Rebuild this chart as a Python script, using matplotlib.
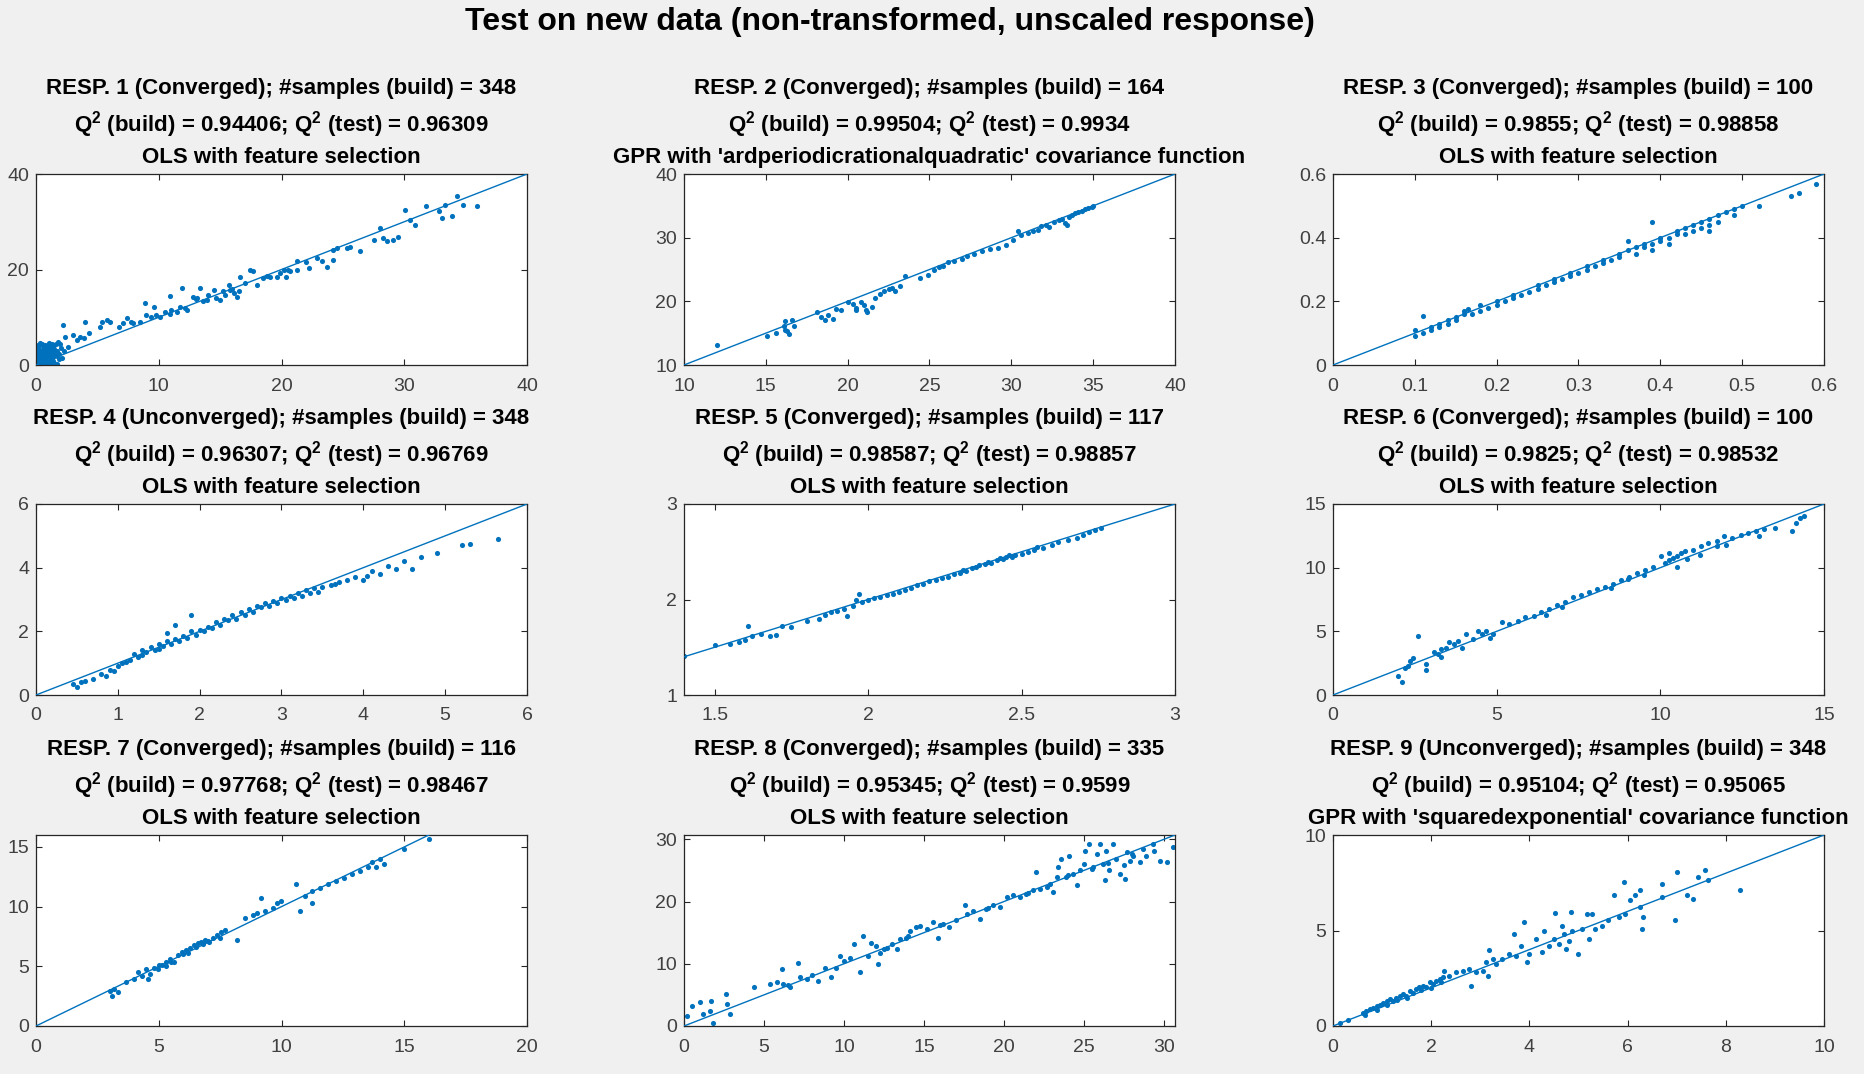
import numpy as np
import matplotlib.pyplot as plt
from matplotlib.ticker import FormatStrFormatter

plt.rcParams['font.family'] = ['Liberation Sans', 'DejaVu Sans']
plt.rcParams['mathtext.fontset'] = 'custom'
plt.rcParams['mathtext.rm'] = 'Liberation Sans:bold'
plt.rcParams['mathtext.default'] = 'rm'

FIG_BG = '#f0f0f0'
BLUE = '#0072bd'
DARK = '#262626'

main_title = 'Test on new data (non-transformed, unscaled response)'

status = ['Converged', 'Converged', 'Converged', 'Unconverged', 'Converged',
          'Converged', 'Converged', 'Converged', 'Unconverged']
n_build = [348, 164, 100, 348, 117, 100, 116, 335, 348]
q2_build = ['0.94406', '0.99504', '0.9855', '0.96307', '0.98587',
            '0.9825', '0.97768', '0.95345', '0.95104']
q2_test = ['0.96309', '0.9934', '0.98858', '0.96769', '0.98857',
           '0.98532', '0.98467', '0.9599', '0.95065']
methods = ['OLS with feature selection',
           "GPR with 'ardperiodicrationalquadratic' covariance function",
           'OLS with feature selection',
           'OLS with feature selection',
           'OLS with feature selection',
           'OLS with feature selection',
           'OLS with feature selection',
           'OLS with feature selection',
           "GPR with 'squaredexponential' covariance function"]

x_limits = [(0, 40), (10, 40), (0, 0.6), (0, 6), (1.4, 3), (0, 15), (0, 20), (0, 30.7), (0, 10)]
y_limits = [(0, 40), (10, 40), (0, 0.6), (0, 6), (1, 3), (0, 15), (0, 16), (0, 30.7), (0, 10)]
x_ticks = [[0, 10, 20, 30, 40], [10, 15, 20, 25, 30, 35, 40],
           [0, 0.1, 0.2, 0.3, 0.4, 0.5, 0.6], [0, 1, 2, 3, 4, 5, 6],
           [1.5, 2, 2.5, 3], [0, 5, 10, 15], [0, 5, 10, 15, 20],
           [0, 5, 10, 15, 20, 25, 30], [0, 2, 4, 6, 8, 10]]
y_ticks = [[0, 20, 40], [10, 20, 30, 40], [0, 0.2, 0.4, 0.6], [0, 2, 4, 6],
           [1, 2, 3], [0, 5, 10, 15], [0, 5, 10, 15], [0, 10, 20, 30], [0, 5, 10]]

# (true, predicted) pairs for each response
resp1 = [(0.1, 0.3), (0.2, 1.0), (0.3, 2.1), (0.4, 0.6), (0.5, 3.2), (0.6, 1.5), (0.7, 2.8),
         (0.8, 0.9), (0.9, 4.0), (1.0, 2.2), (1.1, 3.5), (1.2, 1.2), (1.3, 4.5), (1.4, 2.6),
         (1.5, 0.5), (1.6, 3.0), (1.7, 1.8), (1.8, 4.8), (1.9, 2.4), (2.0, 3.6), (0.2, 3.8),
         (0.3, 4.6), (0.5, 0.2), (0.7, 4.2), (0.9, 1.9), (1.1, 0.8), (1.3, 2.0), (1.5, 4.1),
         (0.1, 2.5), (0.4, 1.3), (0.6, 2.9), (0.8, 3.4), (1.0, 0.4), (1.2, 3.0), (1.4, 1.6),
         (2.3, 2.9), (2.6, 3.8), (2.1, 1.4), (0.3, 0.1), (0.6, 0.5), (0.9, 0.2), (1.7, 0.3),
         (0.05, 1.6), (0.45, 2.5), (0.15, 4.2), (0.25, 3.1), (0.35, 1.6), (0.55, 3.9),
         (0.65, 2.2), (0.75, 1.2), (0.85, 2.5), (0.95, 3.0), (1.05, 1.6), (1.15, 2.7),
         (1.25, 3.8), (1.35, 0.9), (1.45, 3.3), (1.55, 2.2), (1.65, 4.4), (1.75, 2.9),
         (1.85, 1.3), (1.95, 4.3), (0.05, 0.8), (0.15, 1.9), (0.25, 0.5), (0.45, 4.3),
         (0.55, 1.1), (0.75, 3.6), (1.05, 4.6), (1.2, 0.2),
         (2.2, 8.3), (2.4, 5.9), (3.0, 6.3), (3.3, 5.2), (3.6, 5.9), (3.9, 5.6), (4.0, 9.1),
         (4.3, 6.6), (5.2, 8.0), (5.4, 9.1), (5.8, 9.4), (6.0, 9.1), (6.8, 8.0), (7.1, 8.7),
         (7.4, 9.8), (7.7, 9.1), (7.9, 8.7), (8.5, 9.1), (8.9, 12.9), (9.0, 10.5), (9.4, 10.1),
         (9.6, 12.2), (9.8, 10.5), (10.1, 10.1), (10.5, 11.0), (10.9, 14.5), (10.9, 10.7),
         (11.0, 11.5), (11.5, 11.2), (11.7, 12.2), (12.1, 11.9), (12.3, 11.5), (11.9, 16.1),
         (12.8, 14.3), (13.0, 13.8), (13.1, 14.0), (13.4, 16.1), (13.6, 13.3), (13.9, 13.6),
         (14.0, 14.6), (14.5, 15.7), (14.7, 14.0), (15.0, 13.6), (15.2, 15.6), (15.4, 14.7),
         (15.7, 16.8), (15.8, 15.7), (16.0, 16.0), (16.1, 15.0), (16.4, 14.3), (16.5, 15.4),
         (16.6, 18.5), (17.0, 17.2), (17.4, 19.9), (17.7, 19.6), (18.0, 16.8), (18.5, 18.2),
         (18.8, 18.6), (19.1, 18.5), (19.6, 18.5), (19.9, 19.2), (20.2, 19.9), (20.4, 18.5),
         (20.5, 20.0), (20.7, 19.6), (21.3, 19.9), (21.3, 21.7), (22.0, 21.5), (22.2, 20.3),
         (22.9, 22.4), (23.3, 21.7), (23.7, 20.6), (24.2, 22.0), (24.2, 24.1), (24.5, 24.4),
         (25.3, 24.5), (25.6, 24.8), (26.4, 23.8), (27.5, 26.2), (28.0, 28.7), (28.3, 26.6),
         (28.6, 25.9), (29.1, 26.2), (29.5, 26.9), (30.1, 32.5), (30.5, 30.4), (30.9, 29.4),
         (31.8, 33.2), (32.8, 32.2), (33.1, 30.8), (33.3, 33.6), (33.9, 31.1), (34.3, 35.3),
         (34.8, 33.6), (35.9, 33.2)]

resp2 = [(12.0, 13.2), (15.1, 14.6), (15.6, 15.1), (16.1, 16.1), (16.2, 16.9), (16.3, 15.3),
         (16.4, 14.9), (16.6, 17.1), (16.7, 16.1), (16.2, 15.5), (18.1, 18.3), (18.4, 17.6),
         (18.6, 17.1), (18.8, 17.8), (19.1, 17.3), (19.3, 18.8), (19.6, 18.6), (20.0, 19.9),
         (20.3, 19.6), (20.5, 18.9), (20.8, 19.9), (21.0, 19.4), (21.1, 18.6), (21.5, 19.1),
         (20.5, 18.7), (21.2, 18.3), (21.7, 20.6), (22.0, 21.1), (22.2, 21.6), (22.5, 21.9),
         (22.7, 22.1), (22.9, 21.6), (23.2, 22.4), (23.5, 24.0), (24.4, 23.6), (24.9, 24.1),
         (25.3, 24.9), (25.6, 25.4), (25.8, 25.6), (26.1, 26.1), (26.5, 26.4), (27.0, 26.6),
         (27.3, 27.1), (27.7, 27.4), (28.2, 27.9), (28.7, 28.2), (29.2, 28.4), (29.7, 28.9),
         (30.1, 29.6), (30.4, 31.1), (30.6, 30.4), (31.0, 30.8), (31.3, 31.0), (31.6, 31.2),
         (31.8, 31.9), (32.1, 32.0), (32.3, 31.6), (32.6, 32.4), (32.9, 32.7), (33.1, 33.0),
         (33.3, 32.3), (33.5, 33.3), (33.7, 33.6), (33.9, 33.8), (34.1, 34.0), (34.3, 34.2),
         (34.5, 34.5), (34.7, 34.6), (34.9, 34.8), (35.0, 35.0), (33.4, 32.0)]

resp3 = [(0.10, 0.09), (0.10, 0.11), (0.11, 0.10), (0.11, 0.155), (0.12, 0.12), (0.12, 0.11),
         (0.13, 0.13), (0.13, 0.12), (0.14, 0.14), (0.14, 0.13), (0.15, 0.15), (0.15, 0.14),
         (0.16, 0.17), (0.16, 0.16), (0.165, 0.175), (0.17, 0.16), (0.18, 0.17), (0.18, 0.19),
         (0.19, 0.18), (0.20, 0.19), (0.20, 0.20), (0.21, 0.20), (0.22, 0.21), (0.22, 0.22),
         (0.23, 0.22), (0.24, 0.23), (0.25, 0.24), (0.25, 0.25), (0.26, 0.25), (0.27, 0.26),
         (0.27, 0.27), (0.28, 0.27), (0.29, 0.28), (0.29, 0.29), (0.30, 0.29), (0.31, 0.30),
         (0.31, 0.31), (0.32, 0.31), (0.33, 0.32), (0.33, 0.33), (0.34, 0.33), (0.35, 0.34),
         (0.35, 0.35), (0.36, 0.36), (0.36, 0.39), (0.37, 0.35), (0.37, 0.37), (0.38, 0.37),
         (0.38, 0.38), (0.39, 0.38), (0.39, 0.45), (0.39, 0.36), (0.40, 0.39), (0.40, 0.40),
         (0.41, 0.40), (0.41, 0.38), (0.42, 0.41), (0.42, 0.42), (0.43, 0.43), (0.43, 0.41),
         (0.44, 0.44), (0.44, 0.42), (0.45, 0.45), (0.45, 0.43), (0.46, 0.46), (0.46, 0.44),
         (0.47, 0.47), (0.47, 0.45), (0.48, 0.48), (0.49, 0.47), (0.49, 0.49), (0.50, 0.50),
         (0.52, 0.50), (0.56, 0.53), (0.57, 0.54), (0.59, 0.57), (0.46, 0.42)]

resp4 = [(0.45, 0.35), (0.5, 0.25), (0.55, 0.4), (0.6, 0.45), (0.7, 0.5), (0.8, 0.65),
         (0.85, 0.6), (0.9, 0.8), (0.95, 0.75), (1.0, 0.9), (1.05, 1.0), (1.1, 1.05),
         (1.15, 1.1), (1.2, 1.3), (1.25, 1.2), (1.3, 1.4), (1.3, 1.25), (1.35, 1.35),
         (1.4, 1.5), (1.45, 1.4), (1.5, 1.6), (1.5, 1.45), (1.55, 1.55), (1.6, 1.7),
         (1.6, 1.95), (1.65, 1.6), (1.7, 1.75), (1.7, 2.2), (1.75, 1.7), (1.8, 1.85),
         (1.85, 1.8), (1.9, 2.0), (1.9, 2.5), (1.95, 1.9), (2.0, 2.05), (2.05, 2.0),
         (2.1, 2.15), (2.15, 2.1), (2.2, 2.3), (2.25, 2.2), (2.3, 2.4), (2.35, 2.35),
         (2.4, 2.5), (2.45, 2.4), (2.5, 2.6), (2.55, 2.5), (2.6, 2.7), (2.65, 2.6),
         (2.7, 2.8), (2.75, 2.75), (2.8, 2.9), (2.85, 2.8), (2.9, 2.95), (2.95, 2.9),
         (3.0, 3.05), (3.05, 3.0), (3.1, 3.1), (3.15, 3.05), (3.2, 3.2), (3.25, 3.1),
         (3.3, 3.3), (3.35, 3.2), (3.4, 3.35), (3.45, 3.25), (3.5, 3.4), (3.6, 3.45),
         (3.65, 3.5), (3.7, 3.55), (3.8, 3.6), (3.9, 3.7), (4.0, 3.6), (4.05, 3.75),
         (4.1, 3.9), (4.2, 3.8), (4.3, 4.05), (4.4, 3.95), (4.5, 4.2), (4.6, 3.95),
         (4.7, 4.35), (4.9, 4.45), (5.2, 4.7), (5.3, 4.75), (5.65, 4.9)]

resp5 = [(1.4, 1.41), (1.5, 1.52), (1.55, 1.53), (1.58, 1.56), (1.6, 1.58), (1.61, 1.72),
         (1.62, 1.62), (1.65, 1.64), (1.68, 1.62), (1.7, 1.63), (1.72, 1.72), (1.75, 1.71),
         (1.8, 1.78), (1.84, 1.8), (1.86, 1.84), (1.88, 1.87), (1.9, 1.88), (1.92, 1.9),
         (1.93, 1.83), (1.95, 1.93), (1.96, 2.0), (1.97, 2.06), (1.98, 1.97), (2.0, 1.99),
         (2.02, 2.02), (2.04, 2.03), (2.06, 2.05), (2.08, 2.06), (2.1, 2.08), (2.12, 2.1),
         (2.14, 2.12), (2.16, 2.15), (2.18, 2.16), (2.2, 2.19), (2.22, 2.2), (2.24, 2.23),
         (2.26, 2.24), (2.28, 2.27), (2.3, 2.28), (2.31, 2.31), (2.32, 2.3), (2.34, 2.33),
         (2.35, 2.34), (2.36, 2.36), (2.38, 2.37), (2.39, 2.39), (2.4, 2.38), (2.42, 2.41),
         (2.43, 2.43), (2.44, 2.42), (2.45, 2.45), (2.46, 2.47), (2.47, 2.44), (2.48, 2.47),
         (2.5, 2.48), (2.52, 2.5), (2.54, 2.52), (2.55, 2.55), (2.57, 2.54), (2.6, 2.57),
         (2.62, 2.6), (2.65, 2.62), (2.68, 2.64), (2.7, 2.68), (2.72, 2.71), (2.74, 2.73),
         (2.76, 2.75)]

resp6 = [(2.0, 1.46), (2.1, 1.06), (2.2, 2.1), (2.35, 2.65), (2.45, 2.9), (2.6, 4.6),
         (2.85, 2.4), (2.85, 2.0), (3.1, 3.4), (3.2, 3.2), (3.3, 3.6), (3.45, 3.7),
         (3.55, 4.2), (3.7, 4.0), (3.81, 4.24), (3.93, 3.71), (4.05, 4.77), (4.29, 4.38),
         (4.42, 5.04), (4.54, 4.77), (4.66, 5.04), (4.9, 4.77), (5.15, 5.7), (5.39, 5.57),
         (5.64, 5.84), (5.88, 6.1), (6.13, 6.23), (6.36, 6.5), (6.61, 6.76), (6.85, 7.03),
         (7.09, 7.29), (7.34, 7.69), (7.58, 7.82), (7.82, 8.09), (8.07, 8.36), (8.31, 8.49),
         (8.56, 8.75), (8.8, 9.02), (9.04, 9.28), (9.28, 9.55), (9.53, 9.81), (9.77, 10.08),
         (10.01, 10.88), (10.13, 10.34), (10.26, 10.61), (10.38, 10.74), (10.5, 10.88),
         (10.62, 11.14), (10.74, 11.27), (10.99, 11.41), (11.23, 11.67), (11.47, 11.94),
         (11.72, 12.07), (11.96, 12.47), (12.2, 12.33), (12.45, 12.6), (12.69, 12.73),
         (12.93, 12.86), (13.18, 13.0), (14.03, 12.86), (14.15, 13.53), (14.27, 13.93),
         (14.39, 14.06), (10.26, 11.14), (10.5, 10.08), (11.72, 11.67), (9.0, 9.1),
         (9.5, 9.4), (8.5, 8.4), (10.8, 10.7), (11.2, 11.0), (12.0, 11.8), (13.5, 13.1),
         (13.0, 12.5), (7.0, 6.9), (6.5, 6.3), (4.8, 4.5), (3.3, 3.0), (2.3, 2.3)]

resp7 = [(3.03, 2.96), (3.11, 2.54), (3.19, 3.1), (3.35, 2.82), (3.68, 3.67), (4.0, 3.95),
         (4.16, 4.51), (4.32, 4.23), (4.48, 4.8), (4.56, 3.95), (4.65, 4.37), (4.97, 4.8),
         (5.13, 5.08), (5.29, 5.37), (5.45, 5.65), (5.61, 5.37), (5.77, 5.93), (5.94, 6.21),
         (6.1, 6.36), (6.26, 6.5), (6.42, 6.78), (6.58, 6.92), (6.74, 7.06), (6.9, 7.2),
         (7.06, 7.06), (7.23, 7.34), (7.39, 7.63), (7.55, 7.91), (7.71, 8.05), (8.19, 7.2),
         (8.52, 9.04), (8.84, 9.32), (9.0, 9.46), (9.16, 10.7), (9.32, 9.6), (9.65, 9.89),
         (9.81, 10.31), (9.97, 10.45), (10.61, 11.86), (10.77, 9.6), (11.26, 10.31),
         (10.94, 10.88), (11.26, 11.3), (11.58, 11.58), (11.9, 11.86), (12.23, 12.15),
         (12.55, 12.43), (12.87, 12.71), (13.19, 12.99), (13.52, 13.28), (13.68, 13.7),
         (13.84, 13.28), (14.0, 13.98), (14.16, 13.56), (14.97, 14.83), (16.0, 15.68),
         (5.0, 5.1), (5.5, 5.4), (6.0, 6.0), (6.5, 6.6), (7.0, 7.1), (7.5, 7.4), (6.2, 6.1),
         (5.3, 5.0), (4.8, 4.9), (6.8, 6.9)]

resp8 = [(0.17, 1.6), (0.48, 3.2), (1.0, 3.8), (1.2, 2.0), (1.6, 2.4), (1.7, 4.0), (1.8, 0.5),
         (2.6, 5.2), (2.7, 3.5), (2.9, 2.0), (4.4, 6.2), (5.4, 6.7), (5.8, 7.0), (6.1, 9.1),
         (6.2, 6.7), (6.6, 6.2), (7.1, 10.1), (7.25, 7.8), (7.7, 7.5), (8.4, 7.3), (8.8, 9.4),
         (9.2, 7.8), (9.75, 11.3), (10.0, 10.5), (10.4, 11.0), (10.6, 13.2), (11.0, 8.6),
         (11.2, 14.5), (11.7, 13.4), (12.0, 12.9), (12.1, 9.9), (12.25, 11.8), (12.7, 12.6),
         (13.3, 12.4), (13.5, 14.0), (13.9, 14.2), (14.1, 15.3), (14.5, 15.9), (14.75, 16.1),
         (15.2, 15.6), (15.6, 16.7), (15.9, 14.2), (16.2, 16.4), (16.6, 15.9), (17.6, 19.4),
         (17.7, 18.0), (18.1, 18.5), (18.5, 17.2), (18.9, 18.8), (19.3, 19.4), (19.75, 19.1),
         (20.2, 20.7), (20.6, 21.0), (21.0, 20.7), (21.4, 21.2), (21.8, 21.8), (22.0, 24.7),
         (22.25, 22.0), (22.7, 22.3), (22.9, 22.8), (23.1, 21.5), (23.3, 23.9), (23.4, 25.5),
         (23.6, 26.9), (23.9, 23.9), (24.1, 27.4), (24.3, 24.5), (24.6, 22.6), (24.75, 25.0),
         (25.0, 26.1), (25.1, 28.2), (25.3, 29.3), (25.6, 25.5), (25.8, 27.7), (26.0, 29.3),
         (26.2, 26.1), (26.3, 23.4), (26.4, 28.2), (26.6, 25.0), (26.8, 29.3), (27.0, 26.9),
         (27.25, 24.5), (27.5, 25.8), (27.6, 23.7), (27.7, 28.0), (27.9, 26.6), (28.1, 27.4),
         (28.5, 26.3), (28.7, 28.5), (28.9, 27.4), (29.3, 29.3), (29.4, 28.2), (29.75, 26.6),
         (30.2, 26.3), (30.6, 28.8), (12.5, 12.3), (13.0, 13.2), (16.0, 16.3), (17.0, 17.1),
         (19.0, 18.9), (21.5, 21.4), (24.0, 24.2), (25.5, 25.3), (26.5, 26.2), (28.0, 27.6),
         (8.0, 8.2), (6.5, 6.6), (9.5, 9.3), (11.5, 11.2), (14.0, 14.5)]

resp9 = [(0.61, 0.7), (0.68, 0.79), (0.75, 0.88), (0.82, 0.96), (0.89, 1.05), (0.95, 1.1),
         (1.02, 1.23), (1.09, 1.32), (1.16, 1.4), (1.22, 1.32), (1.29, 1.49), (1.36, 1.58),
         (1.43, 1.67), (1.49, 1.58), (1.56, 1.84), (1.63, 1.75), (1.7, 1.93), (1.76, 2.02),
         (1.83, 2.1), (1.9, 2.02), (1.97, 2.28), (2.03, 2.19), (2.1, 2.37), (2.17, 2.46),
         (2.27, 2.89), (2.24, 2.54), (2.37, 2.63), (2.51, 2.81), (2.64, 2.89), (2.78, 2.98),
         (2.81, 2.1), (2.91, 2.81), (3.05, 2.89), (3.15, 2.63), (3.11, 3.33), (3.18, 3.98),
         (3.25, 3.51), (3.32, 3.25), (3.45, 3.51), (3.59, 3.77), (3.69, 4.82), (3.72, 3.68),
         (3.82, 4.21), (3.89, 5.44), (3.96, 3.33), (3.99, 3.77), (4.13, 4.56), (4.26, 3.86),
         (4.3, 5.0), (4.4, 4.21), (4.5, 4.56), (4.53, 5.93), (4.6, 4.3), (4.67, 5.26),
         (4.7, 4.82), (4.74, 4.04), (4.8, 4.47), (4.84, 5.96), (4.87, 5.0), (5.0, 3.77),
         (5.07, 5.09), (5.18, 5.88), (5.21, 4.56), (5.28, 5.88), (5.34, 5.09), (5.48, 5.26),
         (5.61, 5.53), (5.72, 6.84), (5.82, 5.7), (5.92, 7.54), (5.95, 5.88), (6.05, 6.58),
         (6.16, 6.84), (6.26, 7.1), (6.26, 6.23), (6.29, 5.09), (6.32, 5.7), (6.7, 7.46),
         (6.7, 6.75), (6.97, 5.53), (7.0, 8.07), (7.2, 6.84), (7.34, 6.67), (7.44, 7.81),
         (7.57, 8.16), (7.64, 7.63), (8.28, 7.14), (0.65, 0.6), (0.9, 0.85), (1.1, 1.1),
         (1.3, 1.35), (1.5, 1.45), (1.8, 1.9), (2.0, 2.0), (2.2, 2.3), (0.15, 0.15), (0.3, 0.3)]

responses = [resp1, resp2, resp3, resp4, resp5, resp6, resp7, resp8, resp9]

# panel frames in pixels of the 1865x1074 canvas
W, H = 1865, 1074
col_left = [36, 684, 1333]
row_top = [174, 504, 835]
ax_w, ax_h = 491, 191

fig = plt.figure(figsize=(W / 100, H / 100), dpi=100, facecolor=FIG_BG)
fig.text(890 / W, 1 - 22 / H, main_title, ha='center', va='center',
         fontsize=23, fontweight='bold', color='black')

for i, pts in enumerate(responses):
    r, c = divmod(i, 3)
    ax = fig.add_axes([col_left[c] / W, 1 - (row_top[r] + ax_h) / H, ax_w / W, ax_h / H])
    xy = np.array(pts)
    ax.plot(xy[:, 0], xy[:, 1], 'o', ms=3.7, mew=0, color=BLUE, zorder=2)
    ax.axline((0, 0), slope=1, color=BLUE, lw=1.0, zorder=3)
    ax.set_xlim(*x_limits[i])
    ax.set_ylim(*y_limits[i])
    ax.set_xticks(x_ticks[i])
    ax.set_yticks(y_ticks[i])
    ax.xaxis.set_major_formatter(FormatStrFormatter('%g'))
    ax.yaxis.set_major_formatter(FormatStrFormatter('%g'))
    ax.tick_params(direction='in', top=True, right=True, length=4, width=0.8,
                   labelsize=14, labelcolor='#404040', color=DARK)
    ax.tick_params(axis='x', pad=9)
    ax.tick_params(axis='y', pad=5)
    for sp in ax.spines.values():
        sp.set_color(DARK)
        sp.set_linewidth(0.9)
    title = (f'RESP. {i + 1} ({status[i]}); #samples (build) = {n_build[i]}\n'
             f'Q$^2$ (build) = {q2_build[i]}; Q$^2$ (test) = {q2_test[i]}\n'
             f'{methods[i]}')
    ax.set_title(title, fontsize=16, fontweight='bold', linespacing=1.45, pad=8, color='black')

fig.savefig('out.png', dpi=100, facecolor=FIG_BG)
